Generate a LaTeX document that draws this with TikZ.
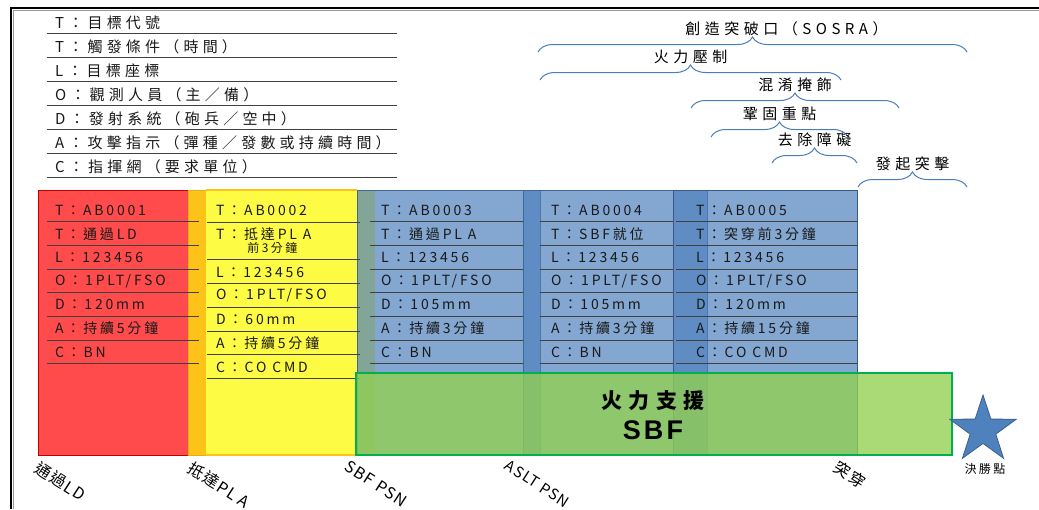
\documentclass[tikz,border=0pt]{standalone}
\usepackage{fontspec}
\setmainfont[LetterSpace=20]{Noto Sans CJK TC}
\newfontfamily\sbffont[LetterSpace=12]{Liberation Sans}
\newfontfamily\markfont[LetterSpace=8]{Noto Sans CJK TC}
\usetikzlibrary{positioning,shapes.geometric,decorations.pathreplacing}

\definecolor{ldred}{HTML}{FF4B4B}
\definecolor{ldredline}{HTML}{C00000}
\definecolor{plaorange}{HTML}{FDC318}
\definecolor{playellow}{HTML}{FDFB43}
\definecolor{sbfblue}{HTML}{4F81BD}
\definecolor{sbfgreen}{HTML}{92D050}
\definecolor{sbfgreenline}{HTML}{00B050}
\definecolor{bracecol}{HTML}{4A7EBB}

\tikzset{
  cell/.style={anchor=west,inner sep=0pt,text=black!90,font=\fontsize{14}{16}\selectfont},
  legend/.style={anchor=west,inner sep=0pt,text=black!90,font=\fontsize{15}{17}\selectfont\addfontfeature{LetterSpace=28}},
  rule/.style={draw=black!75,line width=0.8pt},
  marker/.style={anchor=north west,inner sep=0pt,rotate=-33,font=\fontsize{16}{18}\selectfont\markfont},
  span/.style={decorate,decoration={brace,amplitude=15pt},draw=bracecol,line width=1pt},
  phase/.style={inner sep=1pt,font=\fontsize{15}{17}\selectfont\addfontfeature{LetterSpace=30}},
  box/.style={line width=1pt}
}

\begin{document}
\begin{tikzpicture}[x=1pt,y=-1pt]
  \useasboundingbox (0,0) rectangle (1039,509);

  % frame
  \draw[line width=1.6pt] (11,509) -- (11,8) -- (1039,8);
  \draw[black!40,line width=0.6pt] (13,509) -- (13,10) -- (1039,10);

  % legend
  \foreach \txt [count=\i] in {T：目標代號,T：觸發條件（時間）,L：目標座標,O：觀測人員（主／備）,D：發射系統（砲兵／空中）,A：攻擊指示（彈種／發數或持續時間）,C：指揮網（要求單位）}
    \node[legend] (key\i) at (55,{-0.9+23.9*\i}) {\txt};
  \foreach \y in {33,57,81,105,129,153,177}
    \draw[rule] (47,\y) -- (397,\y);

  % phases
  \draw[box,fill=ldred,draw=ldredline] (38,190) rectangle (188,455);
  \draw[box,fill=plaorange,draw=plaorange!90!black] (188,190) rectangle (206,455);
  \fill[playellow] (206,190) rectangle (375,455);
  \draw[plaorange,line width=1.4pt] (206,190) -- (357,190) (206,455) -- (357,455);
  \draw[box,fill=sbfblue,fill opacity=0.7,draw=sbfblue!80!black] (357,190) rectangle (540,455);
  \draw[box,fill=sbfblue,fill opacity=0.7,draw=sbfblue!80!black] (523,190) rectangle (707,455);
  \draw[box,fill=sbfblue,fill opacity=0.7,draw=sbfblue!70!black] (673,190) rectangle (857,455);

  % target cards
  \foreach \txt [count=\i] in {T：AB0001,T：通過LD,L：123456,O：1PLT/FSO,D：120mm,A：持續5分鐘,C：BN}
    \node[cell] (ld\i) at (55,{186.3+23.7*\i}) {\txt};
  \foreach \txt [count=\i] in {T：AB0003,T：通過PL A,L：123456,O：1PLT/FSO,D：105mm,A：持續3分鐘,C：BN}
    \node[cell] (psn\i) at (381,{186.3+23.7*\i}) {\txt};
  \foreach \txt [count=\i] in {T：AB0004,T：SBF就位,L：123456,O：1PLT/FSO,D：105mm,A：持續3分鐘,C：BN}
    \node[cell] (sbf\i) at (551,{186.3+23.7*\i}) {\txt};
  \foreach \txt [count=\i] in {T：AB0005,T：突穿前3分鐘,L：123456,O：1PLT/FSO,D：120mm,A：持續15分鐘,C：CO CMD}
    \node[cell] (brk\i) at (696,{186.3+23.7*\i}) {\txt};
  \foreach \y in {221.5,245.2,268.9,292.6,316.3,340,363.7}{
    \draw[rule] (47,\y) -- (199,\y);
    \draw[rule] (370,\y) -- (523,\y);
    \draw[rule] (540,\y) -- (673,\y);
    \draw[rule] (676,\y) -- (857,\y);
  }

  \node[cell] (pla1) at (216,210) {T：AB0002};
  \node[cell,align=left] (pla2) at (216,241) {T：抵達PL A\\[-3pt]{\fontsize{12}{14}\selectfont\hspace{2.6em}前3分鐘}};
  \node[cell] (pla3) at (216,272) {L：123456};
  \node[cell] (pla4) at (216,295) {O：1PLT/FSO};
  \node[cell] (pla5) at (216,319) {D：60mm};
  \node[cell] (pla6) at (216,343) {A：持續5分鐘};
  \node[cell] (pla7) at (216,367) {C：CO CMD};
  \foreach \y in {222,259,283,307,331,354,378}
    \draw[rule] (207,\y) -- (360,\y);

  % fire support
  \draw[fill=sbfgreen,fill opacity=0.78,draw=sbfgreenline,line width=1.5pt] (356,373) rectangle (952,455);
  \node[font=\fontsize{21}{24}\selectfont\bfseries\addfontfeature{LetterSpace=30},inner sep=0pt] (fs) at (653,401) {火力支援};
  \node[font=\fontsize{27}{30}\selectfont\sbffont\bfseries,inner sep=0pt] (fsbf) at (653,430) {SBF};

  % phase lines
  \node[marker] (lld) at (41,460) {通過LD};
  \node[marker] (lpla) at (194,460) {抵達PL A};
  \node[marker] (lsbf) at (350,459) {SBF PSN};
  \node[marker,font=\fontsize{15}{17}\selectfont\markfont] (laslt) at (510,459) {ASLT PSN};
  \node[marker] (lbrk) at (840,459) {突穿};

  \node[star,star points=5,star point ratio=2.6,minimum size=70,inner sep=0pt,
        fill=sbfblue,draw=sbfblue!75!black,line width=0.8pt] (win) at (983,430) {};
  \node[font=\fontsize{12}{14}\selectfont,inner sep=0pt] (lwin) at (985,469) {決勝點};

  % braces
  \draw[span] (538,52) -- node[phase,above=15pt,xshift=34pt] (sosra) {創造突破口（SOSRA）} (967,52);
  \draw[span] (540,80) -- node[phase,above=15pt] (supp) {火力壓制} (841,80);
  \draw[span] (691,108) -- node[phase,above=15pt] (obsc) {混淆掩飾} (899,108);
  \draw[span] (711,137) -- node[phase,above=15pt] (secu) {鞏固重點} (848,137);
  \draw[span] (772,163) -- node[phase,above=15pt] (redu) {去除障礙} (857,163);
  \draw[span] (858,187) -- node[phase,above=15pt] (asslt) {發起突擊} (967,187);
\end{tikzpicture}
\end{document}
